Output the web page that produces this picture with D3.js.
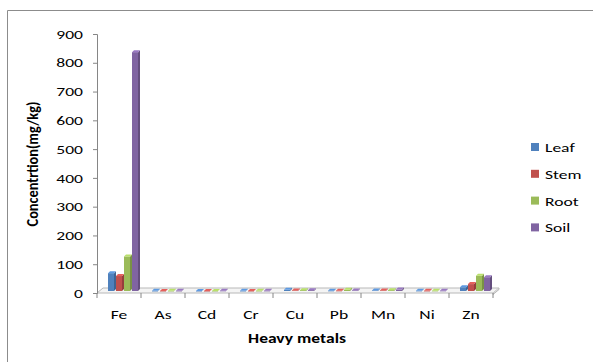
<!DOCTYPE html>
<html>
<head>
<meta charset="utf-8">
<script src="https://cdn.jsdelivr.net/npm/d3@7"></script>
<style>
  html, body { margin: 0; padding: 0; background: #fff; }
  svg { display: block; font-family: Carlito, Lato, "Open Sans", sans-serif; }
</style>
</head>
<body>
<svg id="chart" width="593" height="362"></svg>
<script>
// Heavy metal concentrations (mg/kg) by plant part and soil
const metals = ["Fe", "As", "Cd", "Cr", "Cu", "Pb", "Mn", "Ni", "Zn"];
const seriesNames = ["Leaf", "Stem", "Root", "Soil"];
const leaf = [62, 0.5, 0.4, 0.5, 4, 1, 2, 0.8, 13];
const stem = [52, 0.4, 0.3, 0.4, 2, 1, 2, 0.6, 24];
const root = [120, 0.5, 0.4, 0.5, 3, 4, 3, 0.8, 53];
const soil = [830, 0.6, 1, 0.8, 3, 2, 5, 1, 48];
const yTicks = [0, 100, 200, 300, 400, 500, 600, 700, 800, 900];
const colors = ["#4F81BD", "#C0504D", "#9BBB59", "#8064A2"];

const seriesValues = [leaf, stem, root, soil];
const rows = metals.map((m, i) => ({ metal: m, values: seriesValues.map(s => s[i]) }));

// the text of this chart is set in a horizontally widened face
const SX = 1.35;

const svg = d3.select("#chart");

// outer chart frame
svg.append("path")
  .attr("d", "M7.5,362 L7.5,10.5 L593,10.5")
  .attr("fill", "none").attr("stroke", "#8c8c8c").attr("stroke-width", 1);

const x0 = d3.scaleBand().domain(metals).range([97, 493]);
const x1 = d3.scaleBand().domain(seriesNames).range([8, 40]);
const y = d3.scaleLinear().domain([0, 900]).range([293, 34]);

// depth offsets of the 3D floor and of the bars
const floorDx = 6, floorDy = -5;
const barDx = 3, barDy = -2;
const sideW = 2, topH = 2;

// floor slab
const fx0 = x0.range()[0], fx1 = x0.range()[1], fy = y(0);
svg.append("path")
  .attr("d", `M${fx0},${fy} L${fx1},${fy} L${fx1 + floorDx},${fy + floorDy} L${fx0 + floorDx},${fy + floorDy} Z`)
  .attr("fill", "#f4f4f4").attr("stroke", "#b8b8b8").attr("stroke-width", 1);
svg.append("path")
  .attr("d", `M${fx1},${fy} L${fx1},${fy + 1.5} L${fx1 + floorDx},${fy + floorDy + 1.5} L${fx1 + floorDx},${fy + floorDy}`)
  .attr("fill", "#d9d9d9").attr("stroke", "#b8b8b8").attr("stroke-width", 1);

// bars
const shade = (c, k) => d3.color(c).darker(k).formatHex();
const light = (c, k) => d3.color(c).brighter(k).formatHex();
const groups = svg.append("g").selectAll("g").data(rows).join("g")
  .attr("transform", d => `translate(${x0(d.metal)},0)`);

groups.each(function (d) {
  const g = d3.select(this);
  d.values.forEach((v, si) => {
    const name = seriesNames[si];
    const c = colors[si];
    const bx = x1(name) + barDx;
    const w = x1.bandwidth() - sideW;
    const yt = y(v) + barDy;
    const yb = y(0) + barDy;
    // side face
    g.append("path")
      .attr("d", `M${bx + w},${yt} L${bx + w + sideW},${yt - topH} L${bx + w + sideW},${yb - topH} L${bx + w},${yb} Z`)
      .attr("fill", shade(c, 0.7));
    // front face
    g.append("rect")
      .attr("x", bx).attr("y", yt).attr("width", w).attr("height", Math.max(yb - yt, 0.6))
      .attr("fill", c);
    // top face
    g.append("path")
      .attr("d", `M${bx},${yt} L${bx + sideW},${yt - topH} L${bx + w + sideW},${yt - topH} L${bx + w},${yt} Z`)
      .attr("fill", light(c, 0.5));
  });
});

// value axis
const yAxis = d3.axisLeft(y).tickValues(yTicks).tickSize(4).tickPadding(9);
const ya = svg.append("g").attr("transform", "translate(97,0)").call(yAxis);
ya.select(".domain").attr("stroke", "#868686");
ya.selectAll(".tick line").attr("stroke", "#868686");
ya.selectAll(".tick text")
  .attr("font-size", 13).attr("fill", "#000")
  .attr("font-family", "Carlito, Lato, 'Open Sans', sans-serif")
  .attr("x", -14 / SX)
  .attr("transform", `scale(${SX},1)`);

// helper for widened horizontal text
function wideText(parent, x, yy, str, size, weight, anchor) {
  parent.append("g").attr("transform", `translate(${x},${yy})`)
    .append("text")
    .attr("transform", `scale(${SX},1)`)
    .attr("text-anchor", anchor || "middle")
    .attr("font-size", size)
    .attr("font-weight", weight || "normal")
    .text(str);
}

// category axis ticks and labels
const xa = svg.append("g");
const edges = metals.map(m => x0(m)).concat([x0.range()[1]]);
xa.selectAll("line").data(edges).join("line")
  .attr("x1", d => d).attr("x2", d => d)
  .attr("y1", y(0)).attr("y2", y(0) + 5)
  .attr("stroke", "#868686");
metals.forEach(m => wideText(xa, x0(m) + x0.bandwidth() / 2, 319, m, 13));

// axis titles
wideText(svg, 297, 343, "Heavy metals", 13, "bold");
svg.append("g").attr("transform", "translate(38,164) rotate(-90)")
  .append("text")
  .attr("transform", "scale(1,1.15)")
  .attr("text-anchor", "middle")
  .attr("font-size", 14.3).attr("font-weight", "bold")
  .text("Concentrtion(mg/kg)");

// legend
const legend = svg.append("g").attr("transform", "translate(531,147)");
seriesNames.forEach((name, i) => {
  const row = legend.append("g").attr("transform", `translate(0,${i * 26.8})`);
  row.append("rect").attr("x", 0).attr("y", -4).attr("width", 8).attr("height", 8)
    .attr("fill", colors[i]);
  wideText(row, 14, 5, name, 13, "normal", "start");
});
</script>
</body>
</html>
